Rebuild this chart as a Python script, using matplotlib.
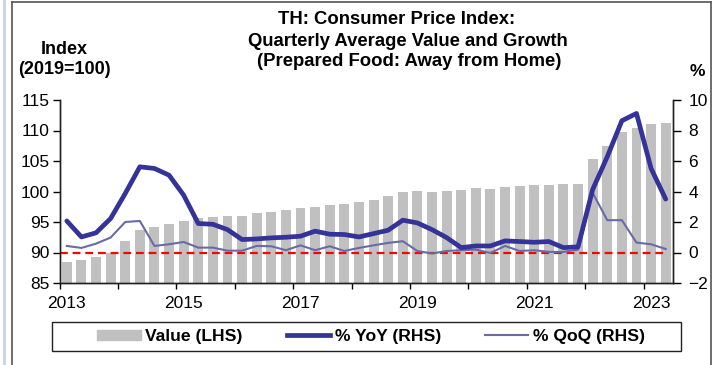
import numpy as np
import matplotlib.pyplot as plt
from matplotlib.lines import Line2D
from matplotlib.patches import Patch, Rectangle

plt.rcParams['font.family'] = ['Liberation Sans', 'DejaVu Sans']

# quarterly series, 2013Q1 .. 2023Q2
quarters = [f"{y}Q{q}" for y in range(2013, 2024) for q in range(1, 5)][:42]
value = [88.45, 88.7, 89.2, 89.95, 91.85, 93.65, 94.15, 94.6, 95.2, 95.6,
         95.85, 95.95, 96.0, 96.4, 96.7, 96.9, 97.3, 97.5, 97.8, 97.9,
         98.2, 98.6, 99.25, 99.95, 100.05, 100.0, 100.05, 100.2, 100.5, 100.4,
         100.8, 100.9, 101.05, 101.05, 101.15, 101.25, 105.25, 107.45, 109.75, 110.4,
         111.05, 111.2]
yoy = [2.07, 1.02, 1.29, 2.23, 3.87, 5.62, 5.51, 5.07, 3.76, 1.90,
       1.85, 1.50, 0.85, 0.89, 0.96, 1.0, 1.07, 1.40, 1.2, 1.18,
       1.02, 1.24, 1.46, 2.12, 1.94, 1.5, 0.98, 0.32, 0.43, 0.43,
       0.76, 0.72, 0.67, 0.72, 0.32, 0.37, 4.13, 6.28, 8.64, 9.12,
       5.51, 3.5]
qoq = [0.43, 0.3, 0.58, 0.98, 2.0, 2.07, 0.43, 0.54, 0.69, 0.32,
       0.32, 0.12, 0.12, 0.43, 0.41, 0.15, 0.47, 0.15, 0.41, 0.1,
       0.3, 0.47, 0.63, 0.74, 0.1, -0.07, 0.1, 0.15, 0.19, -0.03,
       0.43, 0.1, 0.15, 0.04, 0.04, 0.19, 3.91, 2.12, 2.12, 0.65,
       0.54, 0.23]
year_labels = ["2013", "2015", "2017", "2019", "2021", "2023"]

W, H = 712, 365
fig = plt.figure(figsize=(W / 100, H / 100), dpi=100)

def fx(px):
    return px / W

def fy(py):
    return 1 - py / H

ax = fig.add_axes([fx(59.5), fy(283), fx(673 - 59.5), (283 - 100) / H])
ax2 = ax.twinx()

n = len(quarters)
x = np.arange(n) + 0.5
ax.bar(x, value, width=0.68, color='#C0C0C0', zorder=1)
ax.set_xlim(0, n)
ax.set_ylim(85, 115)
ax.set_yticks(np.arange(85, 116, 5))

ax2.hlines(0, 0, n - 0.5, colors='#FF0000', linestyles=(0, (3.5, 2.2)), lw=1.6, zorder=2)
ax2.plot(x, qoq, color='#6A6AA6', lw=1.5, zorder=3)
ax2.plot(x, yoy, color='#333399', lw=3.4, solid_capstyle='round', zorder=4)
ax2.set_ylim(-2, 10)
ax2.set_yticks(np.arange(-2, 11, 2))

# year boundaries as ticks, labels centred on the first quarter
ax.set_xticks(np.arange(0, n, 4))
ax.set_xticklabels([])
lab_idx = [quarters.index(y + "Q1") for y in year_labels]
ax.set_xticks(x[lab_idx], minor=True)
ax.set_xticklabels(year_labels, minor=True)
ax.tick_params(axis='x', which='major', direction='out', length=4, width=1)
ax.tick_params(axis='x', which='minor', length=0, pad=9.5, labelsize=12.5)
ax.tick_params(axis='y', direction='out', length=5, width=1, pad=2, labelsize=12.5)
ax2.tick_params(axis='y', direction='out', length=6, width=1, pad=5, labelsize=12.5)

for a in (ax, ax2):
    a.spines['top'].set_visible(False)
    for s in ('left', 'right', 'bottom'):
        a.spines[s].set_color('#222222')
        a.spines[s].set_linewidth(1)

fig.text(fx(397), fy(19), "TH: Consumer Price Index:", ha='center', va='center',
         fontsize=13.3, fontweight='bold')
fig.text(fx(408), fy(41), "Quarterly Average Value and Growth", ha='center', va='center',
         fontsize=13.3, fontweight='bold')
fig.text(fx(409), fy(61), "(Prepared Food: Away from Home)", ha='center', va='center',
         fontsize=13.3, fontweight='bold')
fig.text(fx(64.5), fy(50), "Index", ha='center', va='center', fontsize=13, fontweight='bold')
fig.text(fx(64.5), fy(69.5), "(2019=100)", ha='center', va='center', fontsize=13, fontweight='bold')
fig.text(fx(697), fy(71), "%", ha='center', va='center', fontsize=12.5, fontweight='bold')

# legend, box drawn separately
fig.add_artist(Rectangle((fx(52), fy(351)), fx(681 - 52), (351 - 322) / H,
                         transform=fig.transFigure, fill=False, ec='#222222', lw=1))
handles = [Patch(color='#C0C0C0'),
           Line2D([], [], color='#333399', lw=3.4),
           Line2D([], [], color='#6A6AA6', lw=1.5)]
fig.legend(handles, ["Value (LHS)", "% YoY (RHS)", "% QoQ (RHS)"],
           loc='center', bbox_to_anchor=(fx(371), fy(336.5)), ncol=3, frameon=False,
           prop={'weight': 'bold', 'size': 12.6}, handlelength=2.5, handleheight=0.55,
           handletextpad=0.25, columnspacing=2.5, borderpad=0)

# outer frame
fig.add_artist(Line2D([fx(12), fx(12)], [0, fy(2)], color='#555555', lw=1.2))
fig.add_artist(Line2D([fx(12), fx(711)], [fy(2), fy(2)], color='#555555', lw=1.2))
fig.add_artist(Line2D([fx(711), fx(711)], [0, fy(2)], color='#555555', lw=1.2))
fig.add_artist(Line2D([fx(3.5), fx(3.5)], [0, 1], color='#C8D2E6', lw=2))

fig.savefig('out.png', dpi=100)
